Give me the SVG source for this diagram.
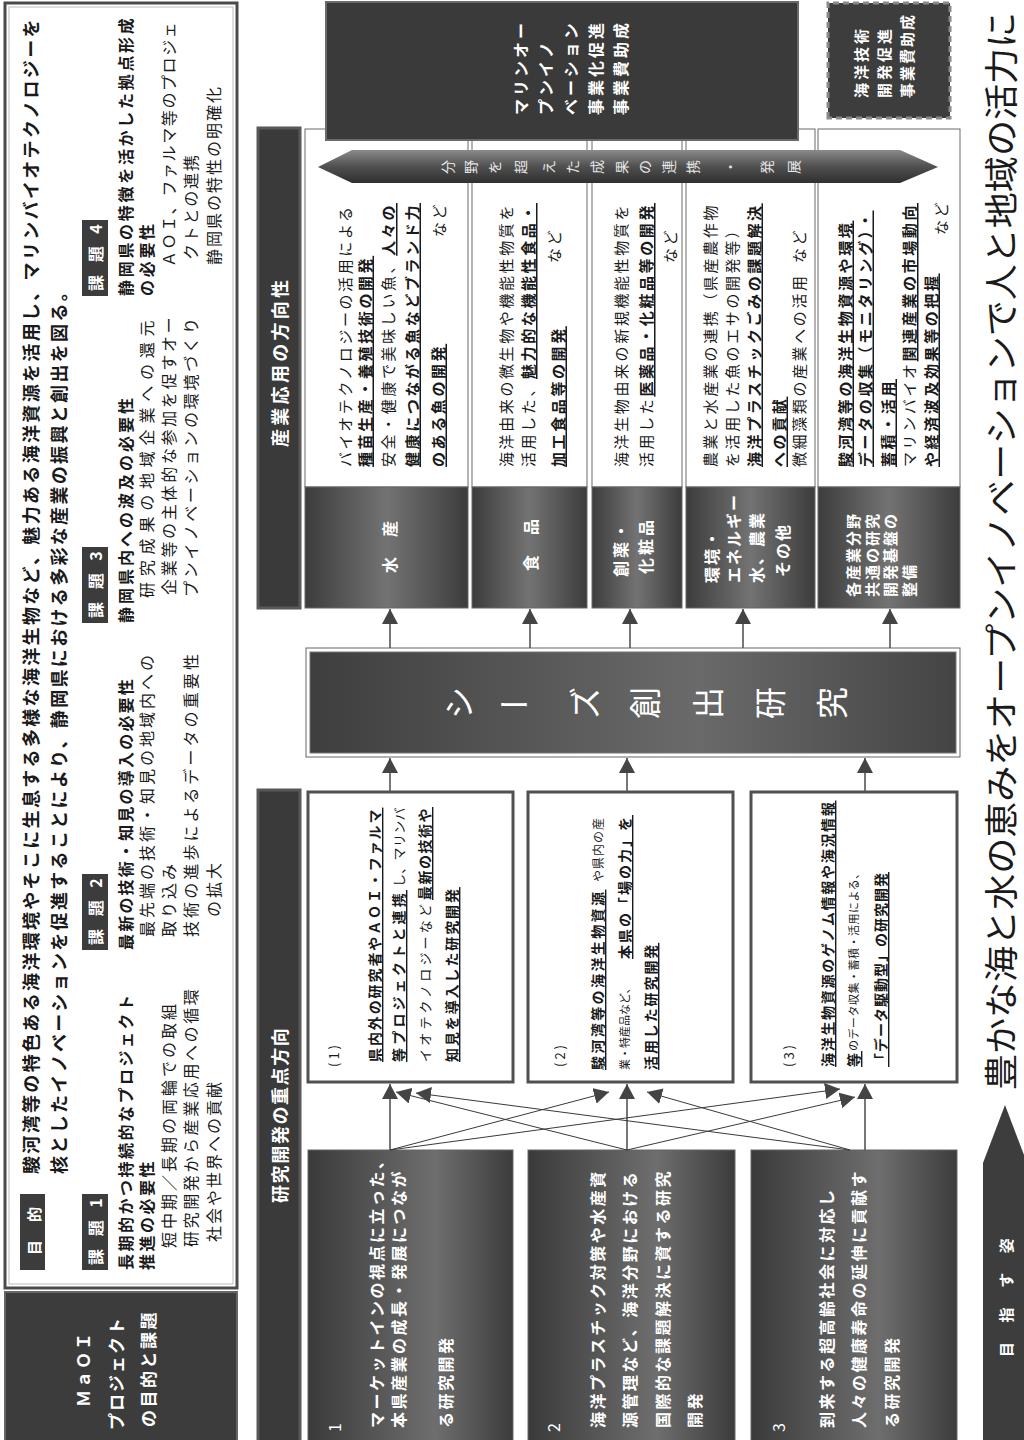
<svg xmlns="http://www.w3.org/2000/svg" width="1024" height="1440" viewBox="0 0 1024 1440">
<defs>
<style>
text{font-family:"Noto Sans CJK JP","Noto Sans",sans-serif;dominant-baseline:central;fill:#1a1a1a}
.b{font-weight:bold}
.w{fill:#fff}
.u{text-decoration:underline;text-decoration-thickness:2px;text-underline-offset:2px}
.o{font-size:18px;font-weight:bold;letter-spacing:2.33px}
.i{font-size:16px;letter-spacing:2.6px}
.d{font-size:15px;letter-spacing:2.6px}
.r{font-size:14px;font-weight:bold;letter-spacing:1.9px}
.dk{font-size:16px;font-weight:bold;fill:#fff;letter-spacing:2.5px}
.ar{font-size:14px;fill:#e6e6e6;text-anchor:middle}
.sd{font-size:32px;fill:#fff;text-anchor:middle}
.lbl{fill:#3c3c3c}
.hdr{fill:#3a3a3a;stroke:#585858;stroke-width:3}
.wb{fill:#fff;stroke:#505050;stroke-width:3}
.col{fill:#fff;stroke:#6a6a6a;stroke-width:1}
.ind{fill:url(#gInd);stroke:#666;stroke-width:1}
.res{fill:url(#gRes);stroke:#666;stroke-width:1}
.ln{stroke:#3a3a3a;stroke-width:1;fill:none}
.vl{stroke:#555;stroke-width:1.6;fill:none}
</style>
<linearGradient id="gRes" x1="0" y1="0" x2="0" y2="1">
<stop offset="0" stop-color="#3a3a3a"/><stop offset="0.62" stop-color="#6e6e6e"/><stop offset="1" stop-color="#3c3c3c"/>
</linearGradient>
<linearGradient id="gInd" x1="0" y1="0" x2="0" y2="1">
<stop offset="0" stop-color="#3c3c3c"/><stop offset="0.5" stop-color="#737373"/><stop offset="1" stop-color="#3c3c3c"/>
</linearGradient>
<linearGradient id="gSeed" x1="0" y1="0" x2="0" y2="1">
<stop offset="0" stop-color="#3e3e3e"/><stop offset="0.6" stop-color="#6a6a6a"/><stop offset="1" stop-color="#444"/>
</linearGradient>
<linearGradient id="gArrow" x1="0" y1="0" x2="1" y2="0">
<stop offset="0" stop-color="#2f2f2f"/><stop offset="0.5" stop-color="#505050"/><stop offset="1" stop-color="#8a8a8a"/>
</linearGradient>
<marker id="ah" markerUnits="userSpaceOnUse" markerWidth="15" markerHeight="16" refX="15" refY="8" orient="auto">
<path d="M0,0 L15,8 L0,16 Z" fill="#444"/>
</marker>
</defs>
<rect width="1024" height="1440" fill="#fff"/>
<g transform="translate(0,1440) rotate(-90)">

<g id="title">
<rect x="-2" y="5" width="150" height="232" fill="#3c3c3c" stroke="#666" stroke-width="2"/>
<text class="b w" x="33" y="82" style="font-size:17px;letter-spacing:2px">ＭａＯＩ</text>
<text class="b w" x="10" y="115" style="font-size:17px;letter-spacing:2px">プロジェクト</text>
<text class="b w" x="13" y="147" style="font-size:17px;letter-spacing:2.5px">の目的と課題</text>
</g>

<g id="objective">
<rect x="152" y="5" width="1285" height="232" fill="#fff" stroke="#4a4a4a" stroke-width="3"/>
<rect x="156" y="9" width="1277" height="224" fill="none" stroke="#bbb" stroke-width="1"/>
<rect class="lbl" x="170" y="20" width="76" height="25"/>
<text class="b w" x="185" y="33" style="font-size:15px;letter-spacing:7.3px">目 的</text>
<text class="o" x="266" y="30">駿河湾等の特色ある海洋環境やそこに生息する多様な海洋生物など、魅力ある海洋資源を活用し、マリンバイオテクノロジーを</text>
<text class="o" x="266" y="58">核としたイノベーションを促進することにより、静岡県における多彩な産業の振興と創出を図る。</text>
</g>

<g id="issue1">
<rect class="lbl" x="170" y="82" width="76" height="26"/>
<text class="b w" x="175" y="95" style="font-size:16px;letter-spacing:4.5px">課 題 1</text>
<text class="i b" x="170" y="125" style="letter-spacing:2.5px">長期的かつ持続的なプロジェクト</text>
<text class="i b" x="170" y="146" style="letter-spacing:2.5px">推進の必要性</text>
<text class="i" x="192" y="168" style="letter-spacing:3px">短中期／長期の両輪での取組</text>
<text class="i" x="193" y="190">研究開発から産業応用への循環</text>
<text class="i" x="198" y="213" style="letter-spacing:2px">社会や世界への貢献</text>
</g>
<g id="issue2">
<rect class="lbl" x="490" y="82" width="76" height="26"/>
<text class="b w" x="495" y="95" style="font-size:16px;letter-spacing:4.5px">課 題 2</text>
<text class="i b" x="490" y="125" style="letter-spacing:2.2px">最新の技術・知見の導入の必要性</text>
<text class="i" x="503" y="146" style="letter-spacing:3px">最先端の技術・知見の地域内への</text>
<text class="i" x="503" y="168" style="letter-spacing:3px">取り込み</text>
<text class="i" x="503" y="190" style="letter-spacing:3.1px">技術の進歩によるデータの重要性</text>
<text class="i" x="523" y="213" style="letter-spacing:3px">の拡大</text>
</g>
<g id="issue3">
<rect class="lbl" x="817" y="82" width="76" height="26"/>
<text class="b w" x="822" y="95" style="font-size:16px;letter-spacing:4.5px">課 題 3</text>
<text class="i b" x="817" y="125" style="letter-spacing:3px">静岡県内への波及の必要性</text>
<text class="i" x="842" y="146" style="letter-spacing:5.8px">研究成果の地域企業への還元</text>
<text class="i" x="845" y="168" style="letter-spacing:2.7px">企業等の主体的な参加を促すオー</text>
<text class="i" x="843" y="190" style="letter-spacing:2.8px">プンイノベーションの環境づくり</text>
</g>
<g id="issue4">
<rect class="lbl" x="1144" y="82" width="76" height="26"/>
<text class="b w" x="1149" y="95" style="font-size:16px;letter-spacing:4.5px">課 題 4</text>
<text class="i b" x="1144" y="125" style="letter-spacing:2.7px">静岡県の特徴を活かした拠点形成</text>
<text class="i b" x="1144" y="146" style="letter-spacing:2.7px">の必要性</text>
<text class="i" x="1173" y="168" style="letter-spacing:1.6px">ＡＯＩ、ファルマ等のプロジェ</text>
<text class="i" x="1180" y="190" style="letter-spacing:1.8px">クトとの連携</text>
<text class="i" x="1175" y="213" style="letter-spacing:2px">静岡県の特性の明確化</text>
</g>

<g id="hdr-research">
<rect class="hdr" x="-2" y="258" width="652" height="42"/>
<text class="b w" x="237" y="279" style="font-size:18px;letter-spacing:1.6px">研究開発の重点方向</text>
</g>
<g id="hdr-industry">
<rect class="hdr" x="832" y="258" width="480" height="42"/>
<text class="b w" x="993" y="279" style="font-size:18px;letter-spacing:3.3px">産業応用の方向性</text>
</g>

<g id="dir1">
<rect class="res" x="-2" y="308" width="292" height="205"/>
<text class="w" x="8" y="334" style="font-size:16px">1</text>
<text class="dk" x="12" y="376">マーケットインの視点に立った、</text>
<text class="dk" x="12" y="398">本県産業の成長・発展につなが</text>
<text class="dk" x="12" y="445">る研究開発</text>
</g>
<g id="dir2">
<rect class="res" x="-2" y="528" width="292" height="207"/>
<text class="w" x="8" y="553" style="font-size:16px">2</text>
<text class="dk" x="12" y="597">海洋プラスチック対策や水産資</text>
<text class="dk" x="12" y="629">源管理など、海洋分野における</text>
<text class="dk" x="12" y="662">国際的な課題解決に資する研究</text>
<text class="dk" x="12" y="694">開発</text>
</g>
<g id="dir3">
<rect class="res" x="-2" y="751" width="292" height="206"/>
<text class="w" x="8" y="778" style="font-size:16px">3</text>
<text class="dk" x="12" y="826">到来する超高齢社会に対応し</text>
<text class="dk" x="12" y="858">人々の健康寿命の延伸に貢献す</text>
<text class="dk" x="12" y="891">る研究開発</text>
</g>

<g id="res1">
<rect class="wb" x="358" y="308" width="290" height="205"/>
<text x="373" y="333" style="font-size:13px;letter-spacing:3px">(1)</text>
<text class="r u" x="378" y="374">県内外の研究者やＡＯＩ・ファルマ</text>
<text x="378" y="398"><tspan class="r u" style="letter-spacing:3.2px">等プロジェクトと連携</tspan><tspan x="553" style="font-size:13px;letter-spacing:0.3px">し、マリンバ</tspan></text>
<text x="378" y="424"><tspan style="font-size:13px;letter-spacing:3.2px">イオテクノロジーなど</tspan><tspan class="r u" x="540" style="letter-spacing:1.5px">最新の技術や</tspan></text>
<text class="r u" x="378" y="451">知見を導入した研究開発</text>
</g>
<g id="res2">
<rect class="wb" x="358" y="528" width="290" height="205"/>
<text x="373" y="559" style="font-size:13px;letter-spacing:3px">(2)</text>
<text x="370" y="597"><tspan class="r u" style="letter-spacing:2.4px">駿河湾等の海洋生物資源</tspan><tspan x="558" style="font-size:12px;letter-spacing:1px">や県内の産</tspan></text>
<text x="370" y="624"><tspan style="font-size:11px">業・特産品など、</tspan><tspan class="r u" x="481" style="letter-spacing:2px">本県の「場の力」を</tspan></text>
<text class="r u" x="370" y="650">活用した研究開発</text>
</g>
<g id="res3">
<rect class="wb" x="358" y="751" width="290" height="206"/>
<text x="373" y="788" style="font-size:13px;letter-spacing:3px">(3)</text>
<text class="r u" x="373" y="827" style="letter-spacing:1.7px">海洋生物資源のゲノム情報や海況情報</text>
<text x="373" y="853"><tspan class="r u">等</tspan><tspan style="font-size:11px;letter-spacing:0.5px">のデータ収集・蓄積・活用による、</tspan></text>
<text class="r u" x="373" y="880" style="letter-spacing:1px">「データ駆動型」の研究開発</text>
</g>

<g id="seeds">
<rect x="683" y="306" width="109" height="654" fill="#fff" stroke="#666" stroke-width="1"/>
<rect x="687" y="310" width="101" height="646" fill="url(#gSeed)" stroke="#777" stroke-width="1"/>
<text class="sd" x="737" y="457">シ</text>
<text class="sd" x="737" y="514" transform="rotate(90 737 514)">ー</text>
<text class="sd" x="737" y="583">ズ</text>
<text class="sd" x="737" y="643">創</text>
<text class="sd" x="737" y="706">出</text>
<text class="sd" x="737" y="768">研</text>
<text class="sd" x="737" y="830">究</text>
</g>

<g id="ind-fish">
<rect class="col" x="953" y="305" width="358" height="163"/>
<rect class="ind" x="832" y="305" width="121" height="163"/>
<text class="dk" x="867" y="389" style="letter-spacing:2px">水　産</text>
<text class="d" x="973" y="344">バイオテクノロジーの活用による</text>
<text class="d b u" x="973" y="364">種苗生産・養殖技術の開発</text>
<text class="d" x="973" y="387">安全・健康で美味しい魚、<tspan class="b u">人々の</tspan></text>
<text class="d b u" x="973" y="411">健康につながる魚などブランド力</text>
<text class="d b u" x="973" y="437">のある魚の開発</text>
<text class="d" x="1203" y="438">など</text>
</g>
<g id="ind-food">
<rect class="col" x="953" y="472" width="358" height="115"/>
<rect class="ind" x="832" y="472" width="121" height="115"/>
<text class="dk" x="869" y="530" style="letter-spacing:2px">食　品</text>
<text class="d" x="973" y="505">海洋由来の微生物や機能性物質を</text>
<text class="d" x="973" y="527">活用した、<tspan class="b u">魅力的な機能性食品・</tspan></text>
<text class="d b u" x="973" y="557">加工食品等の開発</text>
<text class="d" x="1177" y="553">など</text>
</g>
<g id="ind-pharma">
<rect class="col" x="953" y="592" width="358" height="90"/>
<rect class="ind" x="832" y="592" width="121" height="90"/>
<text class="dk" x="863" y="620" style="letter-spacing:3px">創薬・</text>
<text class="dk" x="866" y="645" style="letter-spacing:3px">化粧品</text>
<text class="d" x="973" y="620">海洋生物由来の新規機能性物質を</text>
<text class="d" x="973" y="645">活用した<tspan class="b u">医薬品・化粧品等の開発</tspan></text>
<text class="d" x="1177" y="669">など</text>
</g>
<g id="ind-env">
<rect class="col" x="953" y="686" width="358" height="129"/>
<rect class="ind" x="832" y="686" width="121" height="129"/>
<text class="dk" x="857" y="711" style="letter-spacing:2px">環境・</text>
<text class="dk" x="857" y="733" style="letter-spacing:2px">エネルギー</text>
<text class="dk" x="857" y="756" style="letter-spacing:2px">水、農業</text>
<text class="dk" x="863" y="782" style="letter-spacing:2px">その他</text>
<text class="d" x="973" y="709">農業と水産業の連携（県産農作物</text>
<text class="d" x="973" y="731">を活用した魚のエサの開発等）</text>
<text class="d b u" x="973" y="753">海洋プラスチックごみの課題解決</text>
<text class="d b u" x="973" y="778">への貢献</text>
<text class="d" x="973" y="798">微細藻類の産業への活用</text>
<text class="d" x="1177" y="798">など</text>
</g>
<g id="ind-common">
<rect class="col" x="953" y="818" width="358" height="142"/>
<rect class="ind" x="832" y="818" width="121" height="142"/>
<text class="dk" x="843" y="852" style="font-size:15px;letter-spacing:2px">各産業分野</text>
<text class="dk" x="843" y="871" style="font-size:15px;letter-spacing:2px">共通の研究</text>
<text class="dk" x="843" y="889" style="font-size:15px;letter-spacing:2px">開発基盤の</text>
<text class="dk" x="843" y="908" style="font-size:15px;letter-spacing:2px">整備</text>
<text class="d b u" x="973" y="844">駿河湾等の海洋生物資源や環境</text>
<text class="d b u" x="973" y="864">データの収集（モニタリング）・</text>
<text class="d b u" x="973" y="887">蓄積・活用</text>
<text class="d" x="973" y="908">マリンバイオ<tspan class="b u">関連産業の市場動向</tspan></text>
<text class="d b u" x="973" y="930">や経済波及効果等の把握</text>
<text class="d" x="1205" y="940">など</text>
</g>

<g id="cross-arrow">
<polygon points="1273,318 1290,352 1290,900 1273,938 1257,900 1257,352" fill="url(#gArrow)"/>
<text class="ar" x="1273" y="447">分</text>
<text class="ar" x="1273" y="470">野</text>
<text class="ar" x="1273" y="494">を</text>
<text class="ar" x="1273" y="520">超</text>
<text class="ar" x="1273" y="548">え</text>
<text class="ar" x="1273" y="572">た</text>
<text class="ar" x="1273" y="596">成</text>
<text class="ar" x="1273" y="621">果</text>
<text class="ar" x="1273" y="644">の</text>
<text class="ar" x="1273" y="668">連</text>
<text class="ar" x="1273" y="692">携</text>
<text class="ar" x="1273" y="729">・</text>
<text class="ar" x="1273" y="766">発</text>
<text class="ar" x="1273" y="793">展</text>
</g>

<g id="marine">
<rect x="1300" y="326" width="138" height="472" fill="#3a3a3a" stroke="#6a6a6a" stroke-width="2"/>
<text class="dk" x="1325" y="520" style="letter-spacing:3px">マリンオー</text>
<text class="dk" x="1325" y="545" style="letter-spacing:3px">プンイノ</text>
<text class="dk" x="1325" y="570" style="letter-spacing:3px">ベーション</text>
<text class="dk" x="1325" y="595" style="letter-spacing:3px">事業化促進</text>
<text class="dk" x="1325" y="620" style="letter-spacing:3px">事業費助成</text>
</g>
<g id="ocean-tech">
<rect x="1322" y="828" width="115" height="122" fill="#3d3d3d" stroke="#8a8a8a" stroke-width="3" stroke-dasharray="6 4"/>
<text class="dk" x="1342" y="860" style="font-size:15px;letter-spacing:3px">海洋技術</text>
<text class="dk" x="1342" y="883" style="font-size:15px;letter-spacing:3px">開発促進</text>
<text class="dk" x="1342" y="906" style="font-size:15px;letter-spacing:2px">事業費助成</text>
</g>

<g id="vision">
<polygon points="-2,983 277,983 335,1005 277,1027 -2,1027" fill="#3d3d3d"/>
<text class="b w" x="83" y="1005" style="font-size:15px;letter-spacing:8.1px">目 指 す 姿</text>
<text x="350" y="999" style="font-size:34px" textLength="1078" lengthAdjust="spacingAndGlyphs">豊かな海と水の恵みをオープンイノベーションで人と地域の活力に</text>
</g>

<g id="connectors">
<line class="vl" x1="290" y1="390" x2="356" y2="390" marker-end="url(#ah)"/>
<line class="vl" x1="290" y1="627" x2="356" y2="627" marker-end="url(#ah)"/>
<line class="vl" x1="290" y1="865" x2="356" y2="865" marker-end="url(#ah)"/>
<line class="ln" x1="290" y1="390" x2="348" y2="609" marker-end="url(#ah)"/>
<line class="ln" x1="290" y1="390" x2="351" y2="840" marker-end="url(#ah)"/>
<line class="ln" x1="290" y1="627" x2="348" y2="396" marker-end="url(#ah)"/>
<line class="ln" x1="290" y1="627" x2="343" y2="855" marker-end="url(#ah)"/>
<line class="ln" x1="290" y1="850" x2="347" y2="416" marker-end="url(#ah)" stroke="#999"/>
<line class="ln" x1="290" y1="850" x2="348" y2="647" marker-end="url(#ah)"/>
<line class="vl" x1="648" y1="390" x2="682" y2="390" marker-end="url(#ah)"/>
<line class="vl" x1="648" y1="627" x2="682" y2="627" marker-end="url(#ah)"/>
<line class="vl" x1="648" y1="865" x2="682" y2="865" marker-end="url(#ah)"/>
<line class="vl" x1="792" y1="390" x2="831" y2="390" marker-end="url(#ah)"/>
<line class="vl" x1="792" y1="530" x2="831" y2="530" marker-end="url(#ah)"/>
<line class="vl" x1="792" y1="630" x2="831" y2="630" marker-end="url(#ah)"/>
<line class="vl" x1="792" y1="743" x2="831" y2="743" marker-end="url(#ah)"/>
<line class="vl" x1="792" y1="890" x2="831" y2="890" marker-end="url(#ah)"/>
</g>
</g>
</svg>
